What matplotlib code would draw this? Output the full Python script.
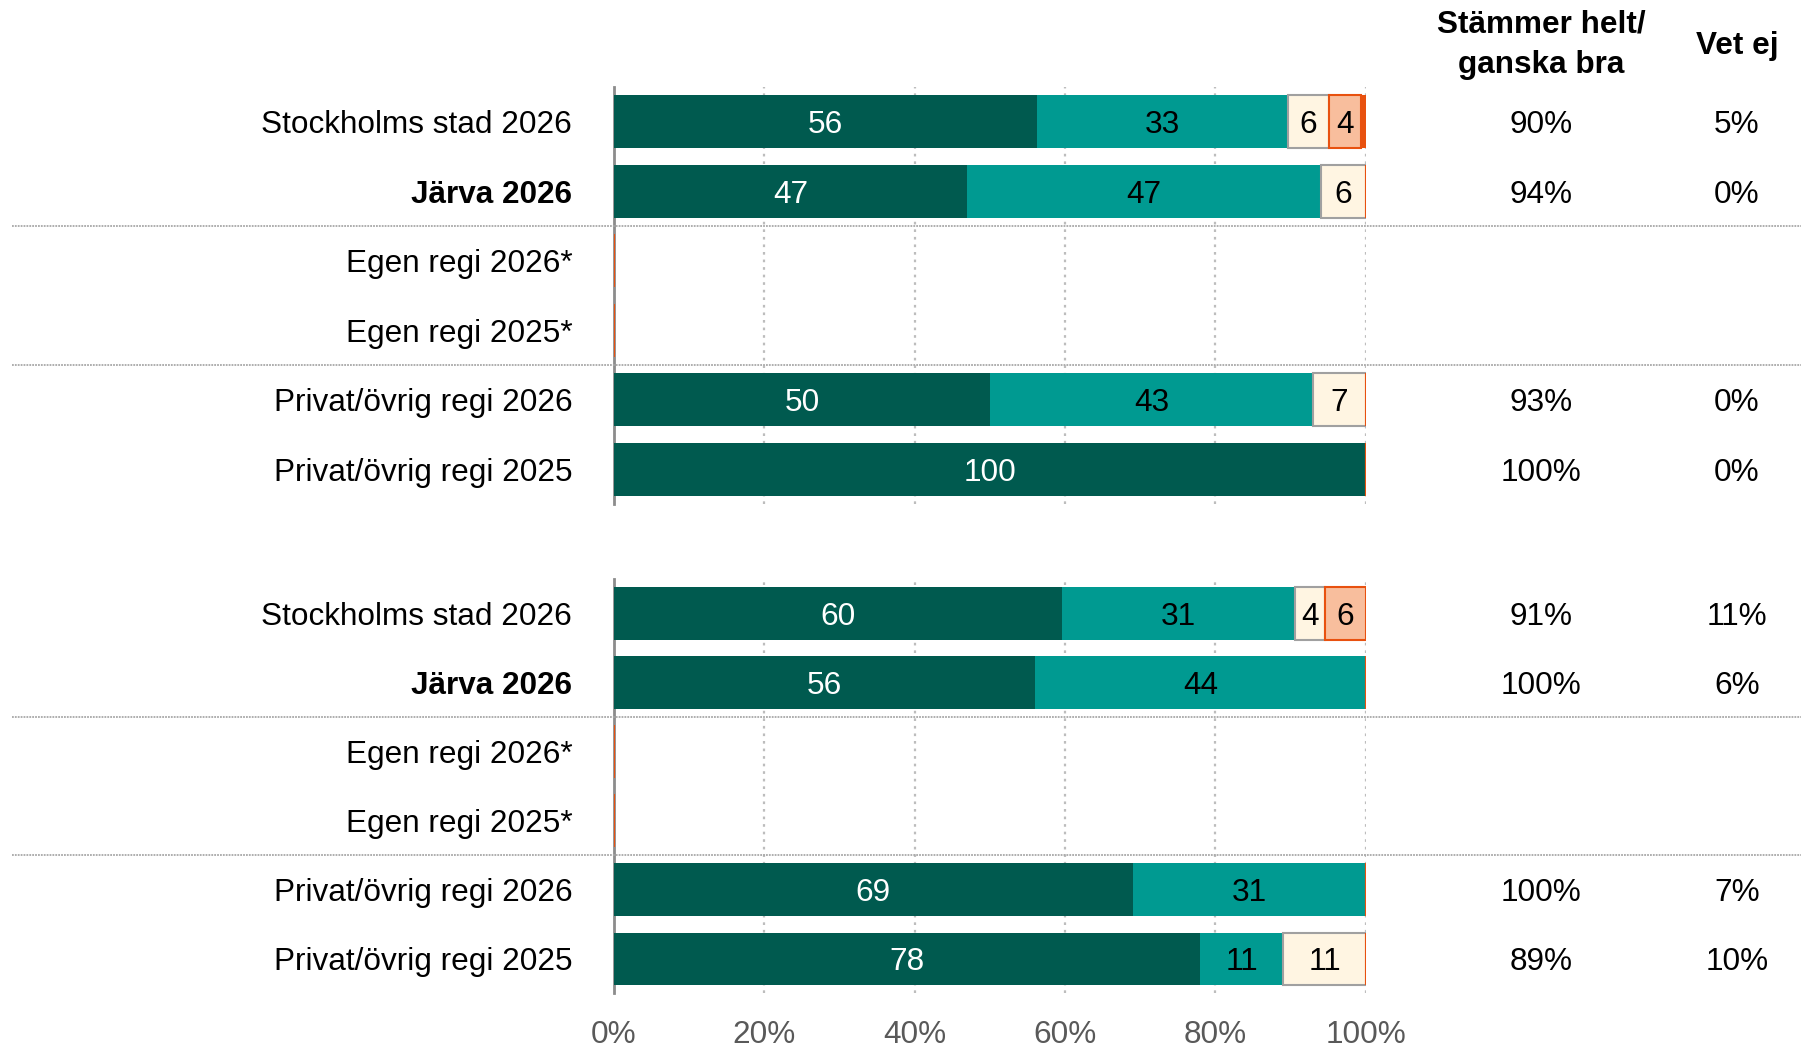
import numpy as np
import matplotlib.pyplot as plt
from matplotlib.transforms import blended_transform_factory
from matplotlib.lines import Line2D

plt.rcParams['font.family'] = ['Liberation Sans', 'DejaVu Sans']

# ----- Data -----
row_labels = ["Stockholms stad 2026", "Järva 2026", "Egen regi 2026*", "Egen regi 2025*",
              "Privat/övrig regi 2026", "Privat/övrig regi 2025"]
bold_rows = ["Järva 2026"]

# group 1 (top block)
g1_helt = [56.2, 47, 0, 0, 50, 100]
g1_ganska_bra = [33.4, 47, 0, 0, 43, 0]
g1_ganska_daligt = [5.5, 6, 0, 0, 7, 0]
g1_mycket_daligt = [4.3, 0, 0, 0, 0, 0]
g1_inte_alls = [0.6, 0, 0, 0, 0, 0]
g1_sum_bra = ["90%", "94%", "", "", "93%", "100%"]
g1_vet_ej = ["5%", "0%", "", "", "0%", "0%"]

# group 2 (bottom block)
g2_helt = [59.6, 56, 0, 0, 69, 78]
g2_ganska_bra = [31, 44, 0, 0, 31, 11]
g2_ganska_daligt = [3.9, 0, 0, 0, 0, 11]
g2_mycket_daligt = [5.5, 0, 0, 0, 0, 0]
g2_inte_alls = [0, 0, 0, 0, 0, 0]
g2_sum_bra = ["91%", "100%", "", "", "100%", "89%"]
g2_vet_ej = ["11%", "6%", "", "", "7%", "10%"]

header_bra = "Stämmer helt/\nganska bra"
header_vet = "Vet ej"
x_ticks = [0, 20, 40, 60, 80, 100]

# ----- Styles -----
colors = ['#005A4F', '#009A91', '#FFF5E2', '#F8BE9D', '#E8510F']
edges = [None, None, '#A0A0A0', '#E8510F', None]
txt_colors = ['white', 'black', 'black', 'black', 'black']
FS = 22.7

fig = plt.figure(figsize=(18.19, 10.48), dpi=100)
ax1 = fig.add_axes([0.3375, 0.519, 0.4134, 0.398])
ax2 = fig.add_axes([0.3375, 0.0522, 0.4134, 0.3955])


def draw_block(ax, series, sum_bra, vet_ej, show_x):
    y = np.arange(len(row_labels))
    left = np.zeros(len(row_labels))
    for vals, c, ec, tc in zip(series, colors, edges, txt_colors):
        vals = np.array(vals, dtype=float)
        ax.barh(y, vals, left=left, height=0.76, color=c,
                edgecolor=ec if ec else 'none', linewidth=1.5 if ec else 0, zorder=3)
        for yi, v, l in zip(y, vals, left):
            if v >= 2:
                ax.text(l + v / 2, yi, f"{v:.0f}", ha='center', va='center_baseline',
                        fontsize=FS, color=tc, zorder=4)
        left += vals

    ax.set_xlim(0, 100)
    ax.set_ylim(len(row_labels) - 0.5, -0.5)
    ax.set_yticks(y)
    ax.set_yticklabels(row_labels, fontsize=FS, va='center_baseline')
    for t in ax.get_yticklabels():
        if t.get_text() in bold_rows:
            t.set_fontweight('bold')
    ax.tick_params(axis='y', length=0, pad=30)
    ax.set_xticks(x_ticks)
    if show_x:
        ax.set_xticklabels([f"{t}%" for t in x_ticks], fontsize=FS, color='#595959')
    else:
        ax.set_xticklabels([])
    ax.tick_params(axis='x', length=0, pad=19)
    for s in ['top', 'right', 'bottom']:
        ax.spines[s].set_visible(False)
    ax.spines['left'].set_color('#8C8C8C')
    ax.spines['left'].set_linewidth(2)
    ax.xaxis.grid(True, color='#BDBDBD', linestyle=(0, (1.2, 2.2)), linewidth=1.6, zorder=0)
    ax.set_axisbelow(True)

    # ----- summary columns -----
    tr = blended_transform_factory(fig.transFigure, ax.transData)
    for yi, a, b in zip(y, sum_bra, vet_ej):
        ax.text(1541 / 1819, yi, a, transform=tr, ha='center', va='center_baseline', fontsize=FS)
        ax.text(1737 / 1819, yi, b, transform=tr, ha='center', va='center_baseline', fontsize=FS)

    # ----- separators -----
    for ys in [1.5, 3.5]:
        fig.add_artist(Line2D([12 / 1819, 1801 / 1819], [ys, ys], transform=tr,
                              color='#A8A8A8', linewidth=1.3, linestyle=(0, (1, 0.6))))


draw_block(ax1, [g1_helt, g1_ganska_bra, g1_ganska_daligt, g1_mycket_daligt, g1_inte_alls],
           g1_sum_bra, g1_vet_ej, False)
draw_block(ax2, [g2_helt, g2_ganska_bra, g2_ganska_daligt, g2_mycket_daligt, g2_inte_alls],
           g2_sum_bra, g2_vet_ej, True)

# ----- Column headers -----
fig.text(1541 / 1819, 1 - 45 / 1048, header_bra, ha='center', va='center',
         fontsize=FS, fontweight='bold', linespacing=1.45)
fig.text(1737 / 1819, 1 - 46 / 1048, header_vet, ha='center', va='center',
         fontsize=FS, fontweight='bold')

fig.savefig('out.png', dpi=100)
